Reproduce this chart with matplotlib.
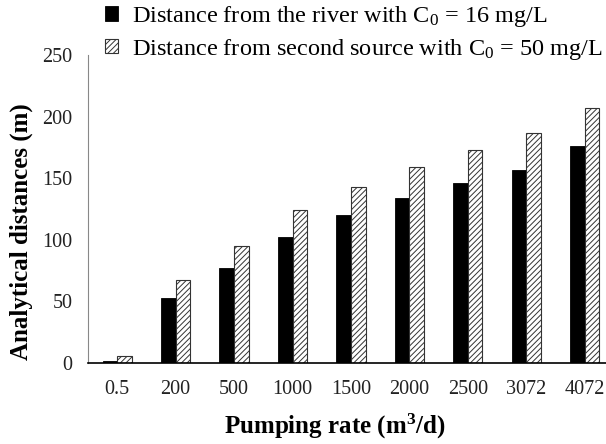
import numpy as np
import matplotlib
matplotlib.use('Agg')
import matplotlib.pyplot as plt

plt.rcParams['font.family'] = 'Liberation Serif'
plt.rcParams['mathtext.fontset'] = 'custom'
plt.rcParams['mathtext.rm'] = 'Liberation Serif'
plt.rcParams['mathtext.it'] = 'Liberation Serif:italic'
plt.rcParams['mathtext.bf'] = 'Liberation Serif:bold'
plt.rcParams['hatch.linewidth'] = 0.7

# pumping rates (m3/d) and analytical distances (m)
rates = ['0.5', '200', '500', '1000', '1500', '2000', '2500', '3072', '4072']
dist_river = [2, 53, 77, 102, 120, 134, 146, 157, 176]
dist_second = [6, 67, 95, 124, 143, 159, 173, 187, 207]

lab_river = r'Distance from the river with C$_{\mathrm{0}}$ = 16 mg/L'
lab_second = r'Distance from second source with C$_{\mathrm{0}}$ = 50 mg/L'

fig = plt.figure(figsize=(6.06, 4.44), dpi=100)
ax = fig.add_axes([0.1452, 0.1824, 0.868, 0.6937])

x = np.arange(len(rates))
w = 0.25
ax.bar(x - w/2, dist_river, w, color='black', edgecolor='black', lw=0.6, label=lab_river)
ax.bar(x + w/2, dist_second, w, color='white', edgecolor='#333333', hatch='//////',
       lw=0.8, label=lab_second)

ax.set_xlim(-0.5, len(rates) - 0.5)
ax.set_ylim(0, 250)
ax.set_yticks([0, 50, 100, 150, 200, 250])
ax.set_xticks(x)
ax.set_xticklabels(rates)
ax.tick_params(axis='both', length=0, labelsize=14.5, colors='#222222')
ax.tick_params(axis='y', pad=11)
ax.tick_params(axis='x', pad=12)

for s in ['top', 'right']:
    ax.spines[s].set_visible(False)
ax.spines['left'].set_color('#888888')
ax.spines['bottom'].set_color('black')
ax.spines['bottom'].set_linewidth(1.2)

ax.set_ylabel('Analytical distances (m)', fontsize=18, fontweight='bold')
ax.set_xlabel(r'Pumping rate (m$^{\mathbf{3}}$/d)', fontsize=18, fontweight='bold')
ax.yaxis.set_label_coords(-0.105, 0.425)
ax.xaxis.set_label_coords(0.47, -0.16)

fig.legend(loc='upper left', bbox_to_anchor=(0.155, 1.015), frameon=False, fontsize=17.5,
           handlelength=0.55, handleheight=0.55, handletextpad=0.55, labelspacing=0.3,
           borderaxespad=0.05)

fig.savefig('out.png', dpi=100)
